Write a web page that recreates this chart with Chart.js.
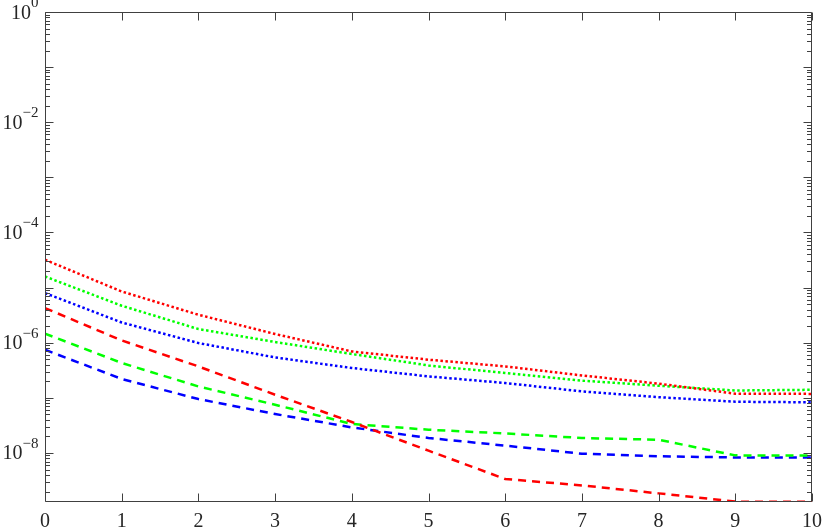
<!DOCTYPE html>
<html>
<head>
<meta charset="utf-8">
<script src="https://cdn.jsdelivr.net/npm/chart.js@4/dist/chart.umd.min.js"></script>
<style>
  html, body { margin: 0; padding: 0; background: #ffffff; }
  #wrap { width: 830px; height: 527px; position: relative; }
</style>
</head>
<body>
<div id="wrap"><canvas id="c" width="830" height="527"></canvas></div>
<script>
// ---- data ----
const xValues = [0, 1, 2, 3, 4, 5, 6, 7, 8, 9, 10];
const redDotted   = [3.20e-5, 8.5e-6, 3.22e-6, 1.44e-6, 6.95e-7, 4.92e-7, 3.72e-7, 2.55e-7, 1.81e-7, 1.19e-7, 1.18e-7];
const greenDotted = [1.59e-5, 4.69e-6, 1.77e-6, 1.03e-6, 6.24e-7, 3.87e-7, 2.82e-7, 2.05e-7, 1.66e-7, 1.36e-7, 1.40e-7];
const blueDotted  = [7.96e-6, 2.33e-6, 9.88e-7, 5.41e-7, 3.48e-7, 2.45e-7, 1.86e-7, 1.31e-7, 1.03e-7, 8.5e-8, 8.3e-8];
const redDashed   = [4.26e-6, 1.10e-6, 3.72e-7, 1.14e-7, 3.65e-8, 1.10e-8, 3.37e-9, 2.58e-9, 1.85e-9, 1.31e-9, 1.30e-9];
const greenDashed = [1.46e-6, 4.29e-7, 1.61e-7, 7.5e-8, 3.36e-8, 2.64e-8, 2.26e-8, 1.87e-8, 1.74e-8, 9.05e-9, 8.95e-9];
const blueDashed  = [7.46e-7, 2.20e-7, 9.5e-8, 5.09e-8, 2.91e-8, 1.87e-8, 1.36e-8, 9.7e-9, 8.7e-9, 8.3e-9, 8.3e-9];
const xTickLabels = ['0', '1', '2', '3', '4', '5', '6', '7', '8', '9', '10'];
const yTickExponents = [0, -2, -4, -6, -8];
const yMin = 1.29e-9;
const yMax = 1;

const AXIS_COLOR = '#404040';
const TEXT_COLOR = '#262626';
const SERIF = "'Liberation Serif', 'DejaVu Serif', serif";

function pts(arr) { return xValues.map((x, i) => ({ x: x, y: arr[i] })); }
function ds(arr, color, dash, width) {
  return { data: pts(arr), borderColor: color, backgroundColor: color, borderWidth: width,
           borderDash: dash, pointRadius: 0, tension: 0, fill: false, borderCapStyle: 'butt' };
}

const frame = {
  id: 'frame',
  afterDraw(chart) {
    const ctx = chart.ctx;
    const a = chart.chartArea;
    const xs = chart.scales.x, ys = chart.scales.y;
    const L = Math.round(a.left) + 0.5, R = Math.round(a.right) - 0.5;
    const T = Math.round(a.top) + 0.5, B = Math.round(a.bottom) - 0.5;
    ctx.save();
    ctx.strokeStyle = AXIS_COLOR;
    ctx.lineWidth = 1;
    ctx.beginPath();
    ctx.rect(L, T, R - L, B - T);
    ctx.stroke();
    // x ticks (bottom and top, inside)
    ctx.beginPath();
    xTickLabels.forEach((lab, i) => {
      const px = Math.round(xs.getPixelForValue(xValues[i])) + 0.5;
      ctx.moveTo(px, B); ctx.lineTo(px, B - 8);
      ctx.moveTo(px, T); ctx.lineTo(px, T + 8);
    });
    ctx.stroke();
    // y ticks: majors each decade, minors at k*10^e
    ctx.beginPath();
    for (let e = -10; e <= 0; e++) {
      for (let k = 1; k <= 9; k++) {
        const v = k * Math.pow(10, e);
        if (v < yMin * 0.999 || v > yMax * 1.001) continue;
        const py = Math.round(ys.getPixelForValue(v)) + 0.5;
        const len = (k === 1) ? 8 : 4.5;
        ctx.moveTo(L, py); ctx.lineTo(L + len, py);
        ctx.moveTo(R, py); ctx.lineTo(R - len, py);
      }
    }
    ctx.stroke();
    // y tick labels 10^e
    ctx.fillStyle = TEXT_COLOR;
    yTickExponents.forEach(e => {
      const py = ys.getPixelForValue(Math.pow(10, e));
      const sup = e === 0 ? '0' : '\u2212' + String(-e);
      ctx.font = '15px ' + SERIF;
      const sw = ctx.measureText(sup).width;
      const right = 38.5;
      ctx.textAlign = 'left';
      ctx.textBaseline = 'alphabetic';
      ctx.fillText(sup, right - sw, py - 5);
      ctx.font = '20px ' + SERIF;
      ctx.textAlign = 'right';
      ctx.fillText('10', right - sw, py + 6.5);
    });
    ctx.restore();
  }
};

new Chart(document.getElementById('c'), {
  type: 'line',
  data: {
    datasets: [
      ds(redDotted, '#ff0000', [2.5, 2.5], 2.5),
      ds(greenDotted, '#00ff00', [2.5, 2.5], 2.5),
      ds(blueDotted, '#0000ff', [2.5, 2.5], 2.5),
      ds(redDashed, '#ff0000', [8, 6], 2.5),
      ds(greenDashed, '#00ff00', [8, 6], 2.5),
      ds(blueDashed, '#0000ff', [8, 6], 2.5)
    ]
  },
  options: {
    responsive: false,
    animation: false,
    layout: { padding: { top: 12, right: 10, left: 0, bottom: 0 } },
    plugins: { legend: { display: false }, tooltip: { enabled: false } },
    scales: {
      x: {
        type: 'linear', min: 0, max: 10,
        grid: { display: false, drawTicks: false },
        border: { display: false },
        ticks: {
          stepSize: 1, autoSkip: false, maxRotation: 0, padding: 8,
          color: TEXT_COLOR, font: { family: SERIF, size: 20 },
          callback: (v) => xTickLabels[xValues.indexOf(v)]
        },
        afterFit: (s) => { s.height = 25; }
      },
      y: {
        type: 'logarithmic', min: yMin, max: yMax,
        grid: { display: false, drawTicks: false },
        border: { display: false },
        ticks: { display: false },
        afterFit: (s) => { s.width = 45; }
      }
    }
  },
  plugins: [frame]
});
</script>
</body>
</html>
